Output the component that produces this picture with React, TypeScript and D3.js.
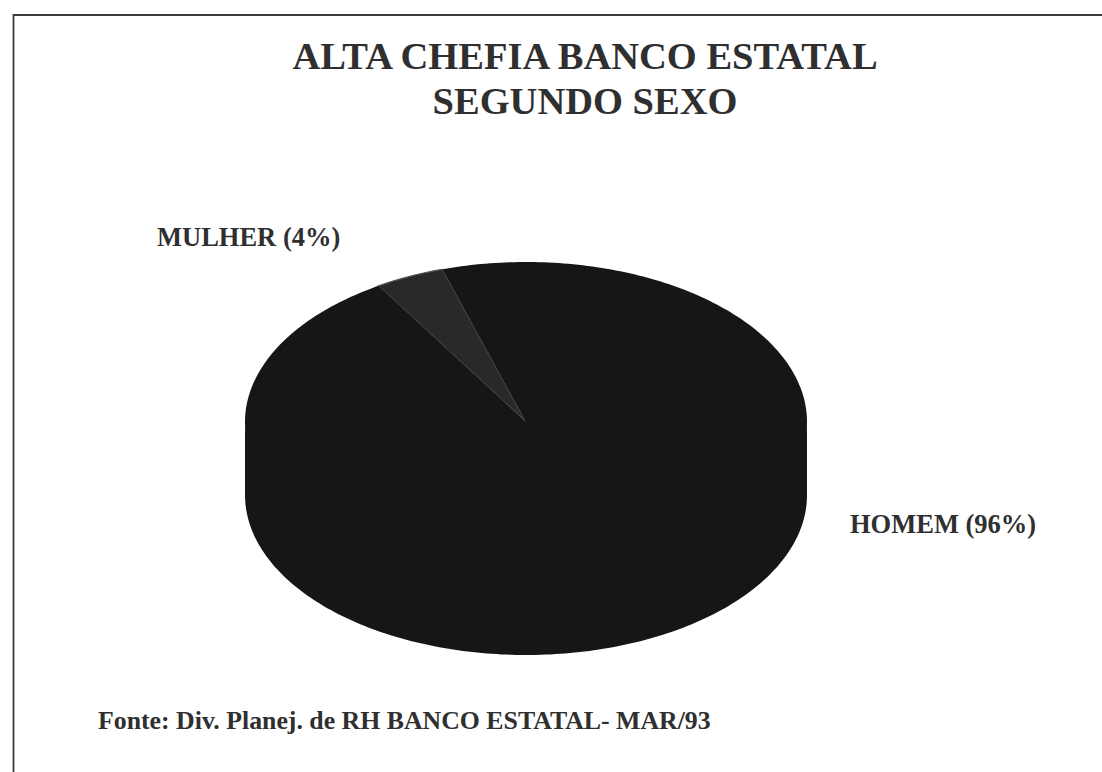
import React, { useEffect } from "react";
import * as d3 from "d3";

// ---- data ----
const categories = ["MULHER", "HOMEM"];
const values = [4, 96];
const sliceLabels = ["MULHER (4%)", "HOMEM (96%)"];
const titleLines = ["ALTA CHEFIA BANCO ESTATAL", "SEGUNDO SEXO"];
const sourceNote = "Fonte: Div. Planej. de RH BANCO ESTATAL- MAR/93";

// ---- layout / style ----
const W = 1102;
const H = 772;
const CX = 526;
const CY = 422;
const RX = 281;
const RY = 160;
const DEPTH = 73;
const START_DEG = -31.7;
const sliceFill = ["#292929", "#161616"];
const sliceEdge = ["#585858", "none"];
const labelPos = [
  { x: 157, y: 246, anchor: "start" },
  { x: 850, y: 533, anchor: "start" },
];
const FONT = "'Liberation Serif', 'Times New Roman', serif";
const INK = "#2f2f2f";

function pt(a: number, dy = 0): [number, number] {
  return [CX + RX * Math.sin(a), CY - RY * Math.cos(a) + dy];
}

function topPath(a0: number, a1: number) {
  const n = Math.max(2, Math.ceil(((a1 - a0) / (2 * Math.PI)) * 360));
  const p = d3.path();
  p.moveTo(CX, CY);
  d3.range(n + 1).forEach((i) => {
    const [x, y] = pt(a0 + ((a1 - a0) * i) / n);
    p.lineTo(x, y);
  });
  p.closePath();
  return p.toString();
}

function sidePath(a0: number, a1: number) {
  // visible front part: angles in [PI/2, 3PI/2] (mod 2PI)
  const parts: string[] = [];
  for (const shift of [-2 * Math.PI, 0, 2 * Math.PI]) {
    const s = Math.max(a0 + shift, Math.PI / 2);
    const e = Math.min(a1 + shift, (3 * Math.PI) / 2);
    if (e <= s) continue;
    const n = Math.max(2, Math.ceil(((e - s) / (2 * Math.PI)) * 360));
    const p = d3.path();
    const ts = d3.range(n + 1).map((i) => s + ((e - s) * i) / n);
    ts.forEach((t, i) => {
      const [x, y] = pt(t, -3);
      if (i === 0) p.moveTo(x, y);
      else p.lineTo(x, y);
    });
    ts.slice().reverse().forEach((t) => {
      const [x, y] = pt(t, DEPTH);
      p.lineTo(x, y);
    });
    p.closePath();
    parts.push(p.toString());
  }
  return parts.join(" ");
}

export default function App() {
  useEffect(() => {
    document.body.style.margin = "0";
  }, []);

  const start = (START_DEG * Math.PI) / 180;
  const arcs = d3
    .pie<number>()
    .sort(null)
    .startAngle(start)
    .endAngle(start + 2 * Math.PI)(values);

  return (
    <svg
      width={W}
      height={H}
      viewBox={`0 0 ${W} ${H}`}
      style={{ position: "absolute", left: 0, top: 0, background: "#ffffff" }}
    >
      <rect x={0} y={0} width={W} height={H} fill="#ffffff" />
      {/* frame */}
      <path d={`M13.5,${H} L13.5,15 L${W},15`} fill="none" stroke="#3a3a3a" strokeWidth={1.8} />

      {/* title */}
      {titleLines.map((t, i) => (
        <text
          key={t}
          x={585}
          y={69 + i * 45}
          textAnchor="middle"
          fontFamily={FONT}
          fontWeight="bold"
          fontSize={38.5}
          fill={INK}
        >
          {t}
        </text>
      ))}

      {/* pie sides */}
      {arcs.map((a, i) => (
        <path key={"s" + categories[i]} d={sidePath(a.startAngle, a.endAngle)} fill={sliceFill[i]} />
      ))}
      {/* pie top */}
      {arcs.map((a, i) => (
        <path
          key={"t" + categories[i]}
          d={topPath(a.startAngle, a.endAngle)}
          fill={sliceFill[i]}
          stroke={sliceEdge[i]}
          strokeWidth={1.2}
          strokeLinejoin="round"
        />
      ))}

      {/* slice labels */}
      {sliceLabels.map((l, i) => (
        <text
          key={l}
          x={labelPos[i].x}
          y={labelPos[i].y}
          textAnchor={labelPos[i].anchor as any}
          fontFamily={FONT}
          fontWeight="bold"
          fontSize={26.5}
          fill={INK}
        >
          {l}
        </text>
      ))}

      {/* source */}
      <text x={98} y={729} fontFamily={FONT} fontWeight="bold" fontSize={25.8} fill={INK}>
        {sourceNote}
      </text>
    </svg>
  );
}
